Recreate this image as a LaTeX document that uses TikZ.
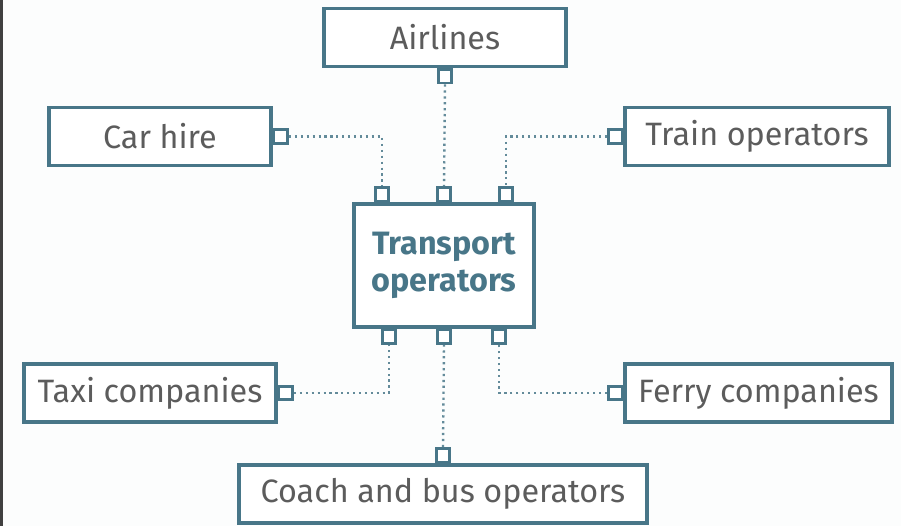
\documentclass[tikz,border=0pt]{standalone}
\usepackage{fontspec}
\setmainfont{Fira Sans}
\usetikzlibrary{positioning,calc}
\definecolor{boxline}{RGB}{72,118,136}
\definecolor{labelgray}{RGB}{92,92,92}
\definecolor{paper}{RGB}{252,253,253}

\begin{document}
\begin{tikzpicture}[x=0.025cm,y=-0.025cm,font=\fontsize{23}{26}\selectfont]
\tikzstyle{b}=[draw=boxline,line width=2.4pt,fill=white,text=labelgray,minimum height=1.45cm,inner sep=0pt]
\tikzstyle{p}=[draw=boxline,line width=1.9pt,fill=white,minimum size=0.34cm,inner sep=0pt]
\tikzstyle{l}=[draw=boxline!85,line width=1.7pt,dash pattern=on 1.6pt off 2.6pt]
\fill[paper] (0,0) rectangle (901,526); \fill[black!75] (0,0) rectangle (3,526);
\node[b,minimum width=6.05cm] (air) at (445,37.5) {Airlines};
\node[b,minimum width=5.55cm] (car) at (160,136.5) {Car hire};
\node[b,minimum width=6.6cm] (train) at (757,136.5) {Train operators};
\node[b,minimum width=4.5cm,minimum height=3.07cm,text=boxline,font=\fontsize{23}{26}\selectfont\bfseries,align=center] (tp) at (444,265.5) {Transport\\operators};
\node[b,minimum width=6.3cm] (taxi) at (150,393) {Taxi companies};
\node[b,minimum width=6.68cm] (ferry) at (758.5,393) {Ferry companies};
\node[b,minimum width=10.2cm] (coach) at (443,494) {Coach and bus operators};
\node[p,anchor=north] (airP) at (air.south) {}; \node[p,anchor=west] (carP) at (car.east) {};
\node[p,anchor=east] (trainP) at (train.west) {}; \node[p,anchor=west] (taxiP) at (taxi.east) {};
\node[p,anchor=east] (ferryP) at (ferry.west) {}; \node[p,anchor=south] (coachP) at (coach.north) {};
\node[p,anchor=south] (tpT1) at ($(tp.north)+(-62,0)$) {}; \node[p,anchor=south] (tpT2) at (tp.north) {};
\node[p,anchor=south] (tpT3) at ($(tp.north)+(62,0)$) {};
\node[p,anchor=north] (tpB1) at ($(tp.south)+(-55,0)$) {}; \node[p,anchor=north] (tpB2) at (tp.south) {};
\node[p,anchor=north] (tpB3) at ($(tp.south)+(55,0)$) {};
\draw[l] (carP.east) -| (tpT1.north); \draw[l] (airP.south) -- (tpT2.north);
\draw[l] (trainP.west) -| (tpT3.north);
\draw[l] (taxiP.east) -| (tpB1.south); \draw[l] (coachP.north) -- (tpB2.south);
\draw[l] (ferryP.west) -| (tpB3.south);
\end{tikzpicture}
\end{document}
